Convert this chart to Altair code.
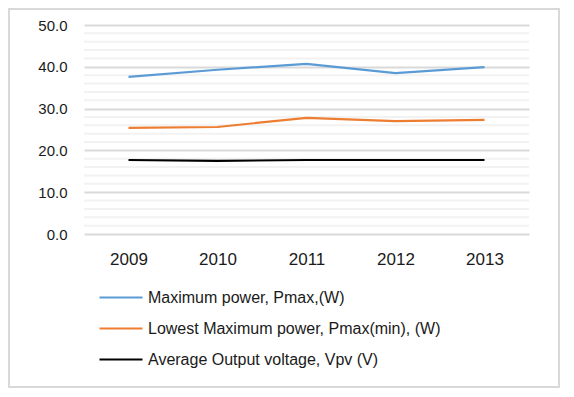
import altair as alt
import pandas as pd

years = ["2009", "2010", "2011", "2012", "2013"]
pmax = [37.6, 39.3, 40.7, 38.5, 39.9]
pmax_min = [25.4, 25.6, 27.8, 27.0, 27.3]
vpv = [17.7, 17.5, 17.7, 17.7, 17.7]
series_names = [
    "Maximum power, Pmax,(W)",
    "Lowest Maximum power, Pmax(min), (W)",
    "Average Output voltage, Vpv (V)",
]
series_colors = ["#5b9bd5", "#ed7d31", "#000000"]
minor_ticks = [v for v in range(2, 50, 2) if v % 10 != 0]
major_ticks = [0, 10, 20, 30, 40, 50]

rows = []
for name, vals in zip(series_names, [pmax, pmax_min, vpv]):
    for y, v in zip(years, vals):
        rows.append({"year": y, "value": v, "series": name})
df = pd.DataFrame(rows)
minor_df = pd.DataFrame({"v": minor_ticks})

FONT = "Liberation Sans"
W, H = 445, 209

y_scale = alt.Scale(domain=[0, 50], nice=False)
y_axis = alt.Axis(
    title=None, values=major_ticks, format=".1f", domain=False, ticks=False,
    grid=True, gridColor="#d9d9d9", gridWidth=2,
    labelFont=FONT, labelFontSize=15, labelColor="#1a1a1a", labelPadding=17,
)

frame = alt.Chart(pd.DataFrame({"a": [0]})).mark_rect(
    fill=None, stroke="#d9d9d9", strokeWidth=2
).encode(
    x=alt.value(-75), x2=alt.value(475), y=alt.value(-16), y2=alt.value(362)
)

minor = alt.Chart(minor_df).mark_rule(color="#f2f2f2", strokeWidth=2).encode(
    y=alt.Y("v:Q", scale=y_scale, axis=y_axis)
)

lines = alt.Chart(df).mark_line(strokeWidth=2.2).encode(
    x=alt.X(
        "year:O",
        sort=years,
        scale=alt.Scale(type="point", padding=0.5),
        axis=alt.Axis(
            title=None, labelAngle=0, domain=False, ticks=False, grid=False,
            labelFont=FONT, labelFontSize=17, labelColor="#1a1a1a", labelPadding=17,
        ),
    ),
    y=alt.Y("value:Q", scale=y_scale, axis=y_axis),
    color=alt.Color(
        "series:N",
        sort=series_names,
        scale=alt.Scale(domain=series_names, range=series_colors),
        legend=alt.Legend(
            title=None, orient="none", legendX=14, legendY=249.5, direction="vertical",
            symbolType="stroke", symbolSize=1849, symbolStrokeWidth=2.2,
            labelFont=FONT, labelFontSize=16, labelColor="#1a1a1a", labelOffset=4,
            rowPadding=-11, padding=0, labelLimit=400,
        ),
    ),
)

chart = alt.layer(frame, minor, lines).properties(
    width=W, height=H,
    autosize=alt.AutoSizeParams(type="none"),
    padding={"left": 76, "top": 17, "right": 32, "bottom": 156},
).configure(background="white").configure_view(stroke=None)

chart.save("out.html", embed_options={"renderer": "svg", "actions": False})
